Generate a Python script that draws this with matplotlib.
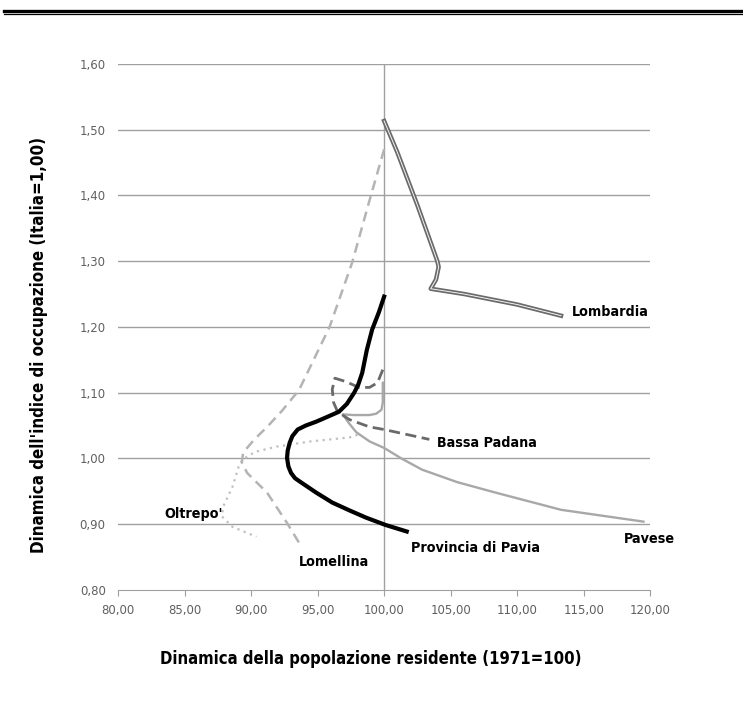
import matplotlib.pyplot as plt
from matplotlib import font_manager
from matplotlib.ticker import FuncFormatter

# population dynamics (1971=100) vs employment index (Italia=1,00)
lomb_x = [100.0, 101.0, 102.5, 104.0, 104.1, 103.9, 103.5, 106.0, 110.0, 113.3]
lomb_y = [1.513, 1.465, 1.385, 1.300, 1.291, 1.272, 1.258, 1.250, 1.234, 1.217]

prov_x = [100.0, 99.6, 99.1, 98.7, 98.35, 98.05, 97.75, 97.2, 96.6, 95.7, 94.9, 94.1, 93.5, 93.1,
          92.9, 92.75, 92.7, 92.8, 93.0, 93.3, 93.8, 94.9, 96.1, 97.4, 98.65, 100.1, 101.7]
prov_y = [1.246, 1.222, 1.196, 1.165, 1.130, 1.112, 1.100, 1.083, 1.071, 1.063, 1.056, 1.050, 1.044, 1.034,
          1.024, 1.012, 1.001, 0.988, 0.978, 0.970, 0.963, 0.948, 0.933, 0.921, 0.910, 0.899, 0.889]

pav_x = [99.9, 99.9, 99.8, 99.4, 98.9, 97.7, 96.9, 97.3, 97.9, 98.9, 100.0, 101.3, 102.85, 105.5, 108.4, 113.3, 119.5]
pav_y = [1.115, 1.085, 1.074, 1.068, 1.066, 1.066, 1.067, 1.055, 1.040, 1.026, 1.016, 1.000, 0.983, 0.964, 0.948, 0.922, 0.904]

bassa_x = [99.9, 99.5, 98.9, 98.1, 97.1, 96.3, 96.1, 96.2, 96.5, 97.4, 98.9, 100.0, 103.4]
bassa_y = [1.135, 1.115, 1.108, 1.108, 1.117, 1.122, 1.105, 1.085, 1.071, 1.059, 1.048, 1.044, 1.029]

lomel_x = [100.0, 98.8, 97.6, 95.9, 93.6, 92.3, 91.2, 90.2, 89.4, 89.3, 89.7, 91.2, 92.7, 93.6]
lomel_y = [1.470, 1.385, 1.298, 1.200, 1.104, 1.072, 1.048, 1.028, 1.009, 0.994, 0.978, 0.948, 0.902, 0.872]

oltre_x = [98.0, 97.4, 94.5, 91.9, 90.3, 89.4, 89.1, 88.6, 87.9, 87.8, 88.6, 90.4]
oltre_y = [1.036, 1.032, 1.026, 1.018, 1.010, 0.999, 0.990, 0.957, 0.927, 0.912, 0.896, 0.881]

label_names = ['Lombardia', 'Bassa Padana', 'Provincia di Pavia', 'Pavese', "Oltrepo'", 'Lomellina']
label_x = [114.1, 104.0, 102.0, 118.05, 83.5, 93.6]
label_y = [1.222, 1.024, 0.864, 0.877, 0.915, 0.843]

# pick a condensed bold face if one is installed
cond_file = None
for f in font_manager.fontManager.ttflist:
    n = f.fname.lower()
    if ('condensed-bold' in n or 'narrow-bold' in n) and 'oblique' not in n and 'italic' not in n:
        cond_file = f.fname
        break


def cprops(size):
    if cond_file:
        return font_manager.FontProperties(fname=cond_file, size=size)
    return font_manager.FontProperties(family='DejaVu Sans', weight='bold', size=size * 0.85)


fig = plt.figure(figsize=(7.43, 7.24), dpi=100)
ax = fig.add_axes([0.159, 0.185, 0.716, 0.727])

# double rule at the top of the page
fig.add_artist(plt.Line2D([0.005, 1.0], [0.985, 0.985], color='black', lw=2.4))
fig.add_artist(plt.Line2D([0.005, 1.0], [0.980, 0.980], color='black', lw=0.9))

for v in [0.9, 1.0, 1.1, 1.2, 1.3, 1.4, 1.5, 1.6]:
    ax.axhline(v, color='#a0a0a0', lw=1.0, zorder=1)
ax.axvline(100, color='#a0a0a0', lw=1.0, zorder=1)

ax.plot(oltre_x, oltre_y, color='#c0c0c0', lw=1.6, linestyle=(0, (1, 2)), zorder=2)
ax.plot(lomel_x, lomel_y, color='#b4b4b4', lw=1.8, linestyle=(0, (4, 2.5)), zorder=2)
ax.plot(pav_x, pav_y, color='#a8a8a8', lw=1.7, zorder=3)
ax.plot(bassa_x, bassa_y, color='#6a6a6a', lw=2.0, linestyle=(0, (4, 2)), zorder=3)
ax.plot(lomb_x, lomb_y, color='#6a6a6a', lw=3.2, solid_joinstyle='round', zorder=4)
ax.plot(lomb_x, lomb_y, color='#f4f4f4', lw=0.7, solid_joinstyle='round', zorder=5)
ax.plot(prov_x, prov_y, color='black', lw=3.0, solid_joinstyle='round', zorder=6)

for name, x, y in zip(label_names, label_x, label_y):
    ax.text(x, y, name, fontproperties=cprops(10.3), ha='left', va='center',
            color='black', zorder=7)

ax.set_xlim(80, 120)
ax.set_ylim(0.8, 1.6)
ax.set_xticks(range(80, 121, 5))
ax.set_yticks([0.8, 0.9, 1.0, 1.1, 1.2, 1.3, 1.4, 1.5, 1.6])
ax.xaxis.set_major_formatter(FuncFormatter(lambda v, p: f'{v:.2f}'.replace('.', ',')))
ax.yaxis.set_major_formatter(FuncFormatter(lambda v, p: f'{v:.2f}'.replace('.', ',')))
ax.tick_params(axis='x', length=4, color='#a0a0a0', labelsize=8.5, labelcolor='#606060', pad=6)
ax.tick_params(axis='y', length=0, labelsize=8.5, labelcolor='#606060', pad=9)
for s in ['top', 'right', 'left']:
    ax.spines[s].set_visible(False)
ax.spines['bottom'].set_color('#a0a0a0')

ax.set_xlabel('Dinamica della popolazione residente (1971=100)', fontproperties=cprops(12))
ax.set_ylabel("Dinamica dell'indice di occupazione (Italia=1,00)", fontproperties=cprops(12.2))
ax.xaxis.set_label_coords(0.474, -0.113)
ax.yaxis.set_label_coords(-0.132, 0.466)

fig.savefig('out.png', dpi=100)
